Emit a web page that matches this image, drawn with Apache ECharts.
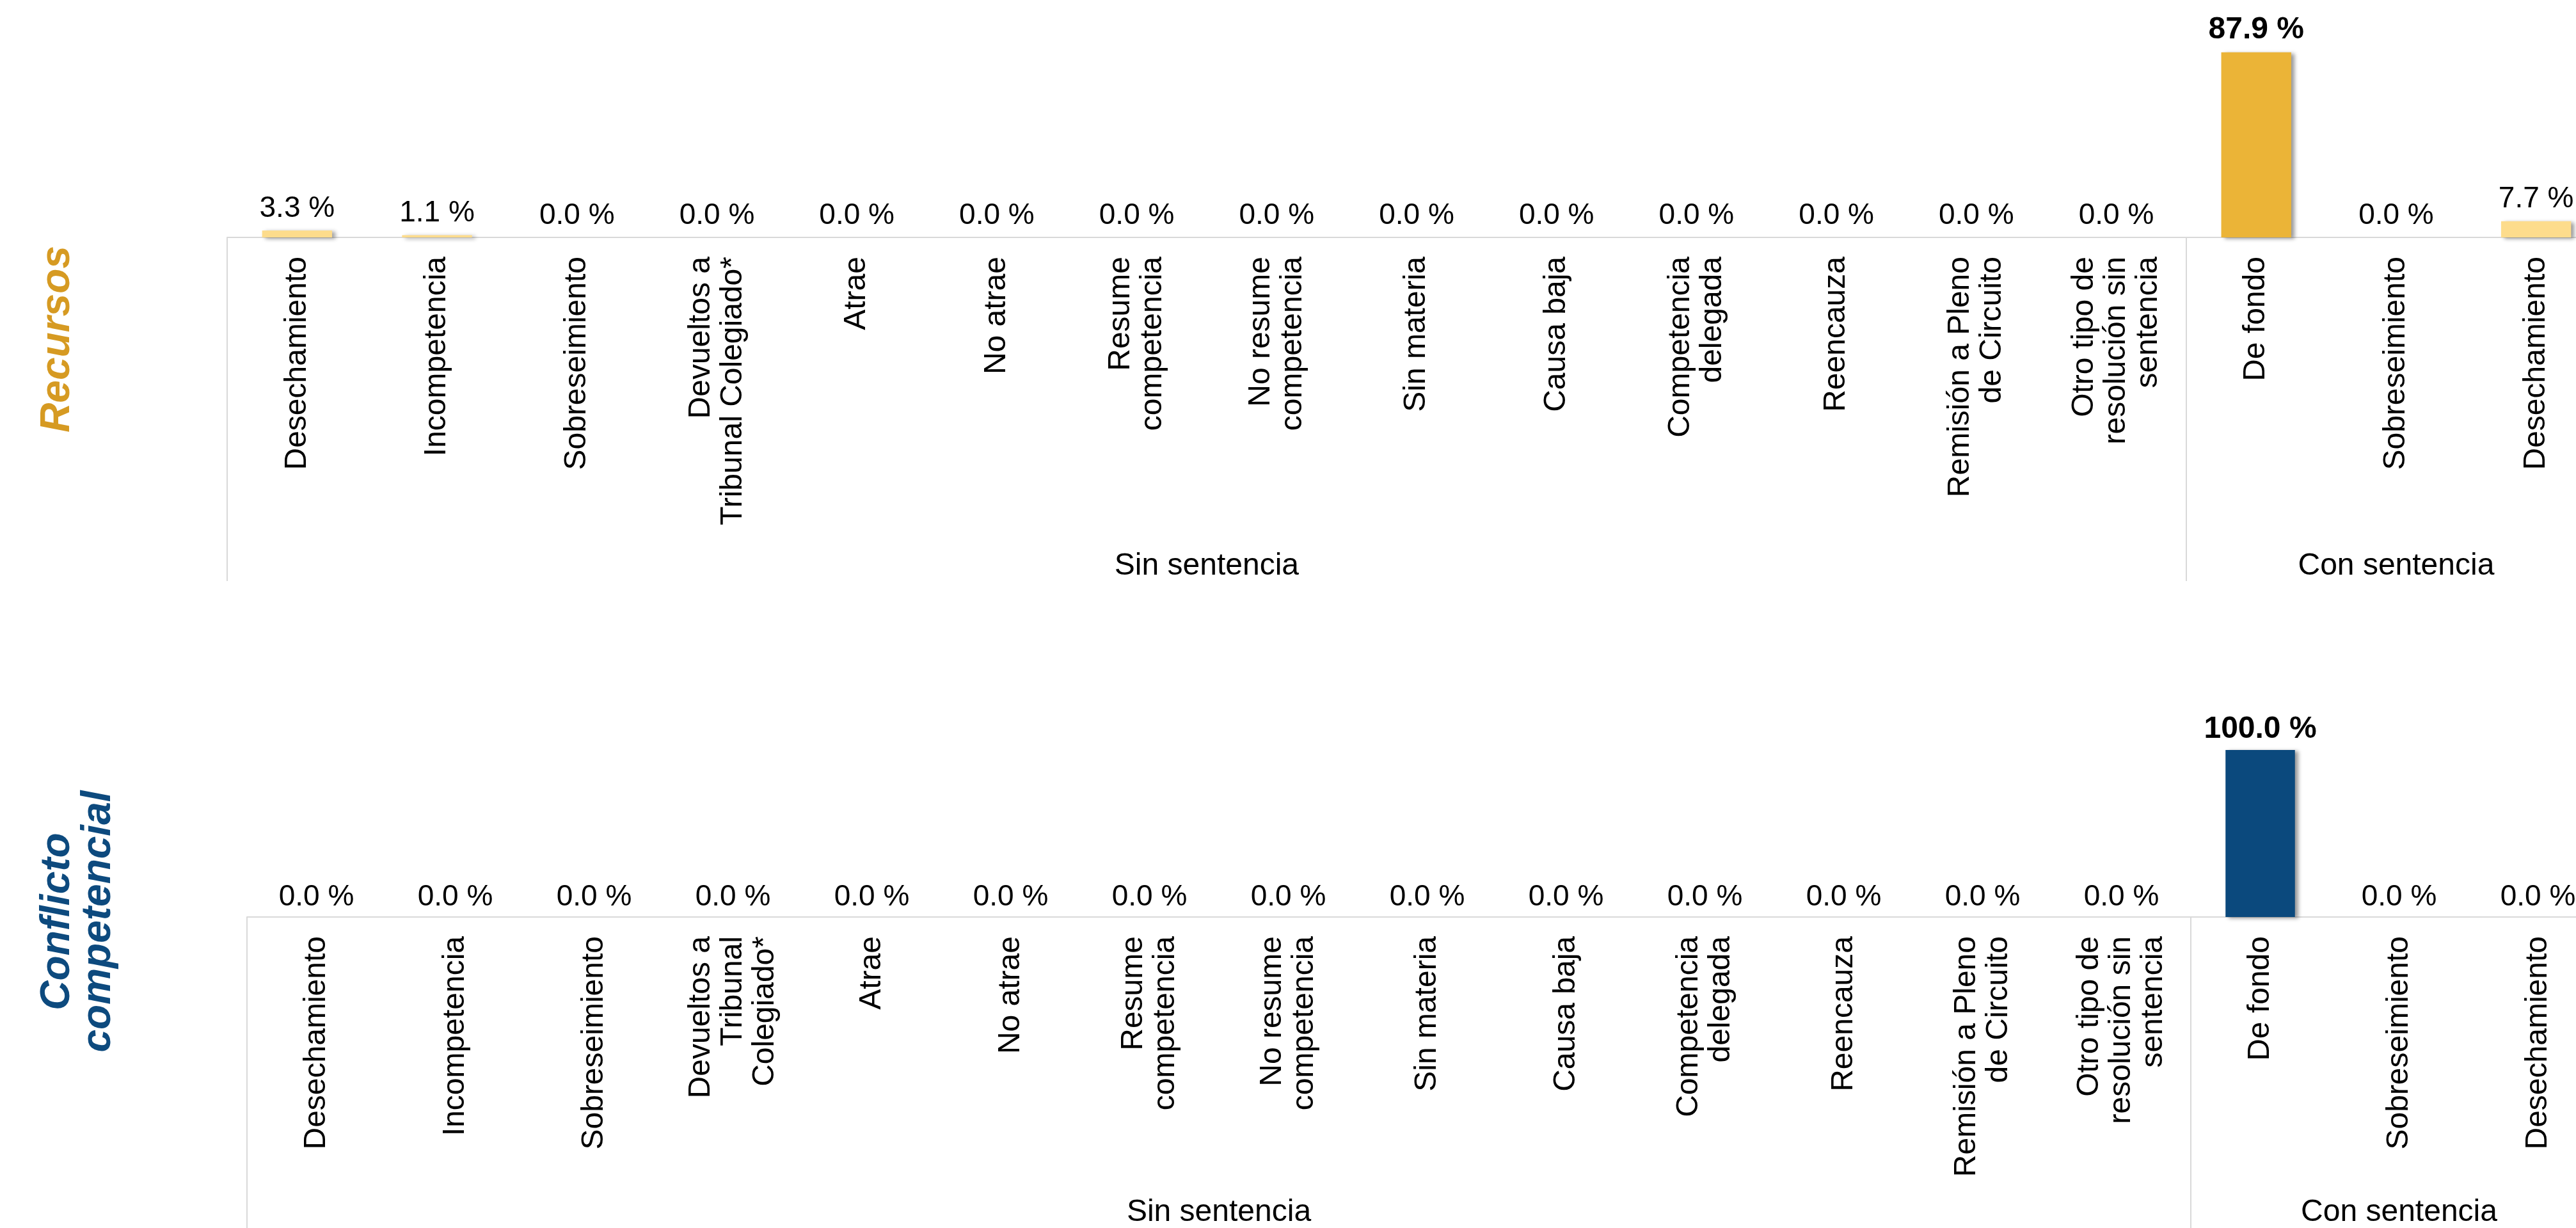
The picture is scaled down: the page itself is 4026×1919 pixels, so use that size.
<!DOCTYPE html>
<html>
<head>
<meta charset="utf-8">
<title>Recursos y conflicto competencial</title>
<script src="https://cdn.jsdelivr.net/npm/echarts@6/dist/echarts.min.js"></script>
<style>
	html, body { margin: 0; padding: 0; background: #fff; }
	#chart { width: 4026px; height: 1919px; }
</style>
</head>
<body>
<div id="chart"></div>
<script>
//Categories for each panel (line breaks as in the original)
let recursosCats = [
	'Desechamiento', 'Incompetencia', 'Sobreseimiento', 'Devueltos a\nTribunal Colegiado*',
	'Atrae', 'No atrae', 'Resume\ncompetencia', 'No resume\ncompetencia', 'Sin materia',
	'Causa baja', 'Competencia\ndelegada', 'Reencauza', 'Remisión a Pleno\nde Circuito',
	'Otro tipo de\nresolución sin\nsentencia', 'De fondo', 'Sobreseimiento', 'Desechamiento'
];
let conflictoCats = [
	'Desechamiento', 'Incompetencia', 'Sobreseimiento', 'Devueltos a\nTribunal\nColegiado*',
	'Atrae', 'No atrae', 'Resume\ncompetencia', 'No resume\ncompetencia', 'Sin materia',
	'Causa baja', 'Competencia\ndelegada', 'Reencauza', 'Remisión a Pleno\nde Circuito',
	'Otro tipo de\nresolución sin\nsentencia', 'De fondo', 'Sobreseimiento', 'Desechamiento'
];

//Percentages
let recursosValues = [3.3, 1.1, 0, 0, 0, 0, 0, 0, 0, 0, 0, 0, 0, 0, 87.9, 0, 7.7];
let conflictoValues = [0, 0, 0, 0, 0, 0, 0, 0, 0, 0, 0, 0, 0, 0, 100, 0, 0];

//Second level of the category axis
let groupNames = ['Sin sentencia', 'Con sentencia'];
let groupSizes = [14, 3];

//Where the groups start and where their labels sit (in band units)
let groupBounds = [];
let groupCenters = [];
let acc = 0;
for (let i = 0; i < groupSizes.length; i++) {
	groupBounds.push(acc);
	groupCenters.push(acc + groupSizes[i] / 2);
	acc += groupSizes[i];
}

let font = '"Liberation Sans", Arial, sans-serif';

//The plot runs past the right edge of the picture, hence the negative right
let panels = [
	{
		title: 'Recursos', cats: recursosCats, values: recursosValues,
		dark: '#EBB437', light: '#FDDC8C', titleColor: '#D69A22',
		left: 355, right: -47, top: 42, height: 329, labelGap: 11,
		groupGap: 490, dividerLen: 537, titleX: 90, titleY: 530
	},
	{
		title: 'Conflicto\ncompetencial', cats: conflictoCats, values: conflictoValues,
		dark: '#0B497D', light: '#9DC3E6', titleColor: '#0D4A7E',
		left: 386, right: -49, top: 1172, height: 261, labelGap: 8,
		groupGap: 438, dividerLen: 520, titleX: 122, titleY: 1440
	}
];

let grids = [];
let xAxes = [];
let yAxes = [];
let series = [];
let graphics = [];

panels.forEach(function (p, i) {
	let n = p.cats.length;
	grids.push({
		left: p.left, right: p.right, top: p.top, height: p.height,
		containLabel: false, outerBoundsMode: 'none'
	});

	//Main category axis
	xAxes.push({
		type: 'category', gridIndex: i, data: p.cats,
		axisLine: { lineStyle: { color: '#D9D9D9', width: 2 } },
		axisTick: { show: false },
		axisLabel: {
			rotate: 90, interval: 0, margin: 30, fontSize: 48, lineHeight: 50,
			color: '#000', fontFamily: font
		}
	});

	//Group axis: dividers + group names
	xAxes.push({
		type: 'value', gridIndex: i, position: 'bottom', min: 0, max: n,
		axisLine: { show: false },
		splitLine: { show: false },
		axisTick: {
			show: true, customValues: groupBounds, length: p.dividerLen,
			lineStyle: { color: '#D9D9D9', width: 2 }
		},
		axisLabel: {
			customValues: groupCenters, margin: p.groupGap, fontSize: 48,
			color: '#000', fontFamily: font,
			formatter: function (v) {
				let k = groupCenters.indexOf(v);
				return k >= 0 ? groupNames[k] : '';
			}
		}
	});

	yAxes.push({ type: 'value', gridIndex: i, min: 0, max: 100, show: false });

	let maxVal = Math.max.apply(null, p.values);
	series.push({
		type: 'bar', xAxisIndex: i * 2, yAxisIndex: i, barWidth: '50%',
		data: p.values.map(function (v) {
			let top = v === maxVal;
			return {
				value: v,
				itemStyle: { color: top ? p.dark : p.light },
				label: { fontWeight: top ? 'bold' : 'normal', fontSize: top ? 48 : 46 }
			};
		}),
		itemStyle: {
			shadowColor: 'rgba(0, 0, 0, 0.4)', shadowBlur: 6,
			shadowOffsetX: 5, shadowOffsetY: 2
		},
		label: {
			show: true, position: 'top', distance: p.labelGap, color: '#000', fontFamily: font,
			formatter: function (d) { return d.value.toFixed(1) + ' %'; }
		}
	});

	graphics.push({
		type: 'text', x: p.titleX, y: p.titleY, rotation: Math.PI / 2,
		style: {
			text: p.title, fill: p.titleColor,
			fontSize: 64, fontWeight: 'bold', fontStyle: 'italic', fontFamily: font,
			lineHeight: 64, textAlign: 'center', align: 'center',
			verticalAlign: 'middle', textVerticalAlign: 'middle'
		}
	});
});

let chart = echarts.init(document.getElementById('chart'));
chart.setOption({
	animation: false,
	backgroundColor: '#fff',
	grid: grids,
	xAxis: xAxes,
	yAxis: yAxes,
	series: series,
	graphic: graphics
});
</script>
</body>
</html>
